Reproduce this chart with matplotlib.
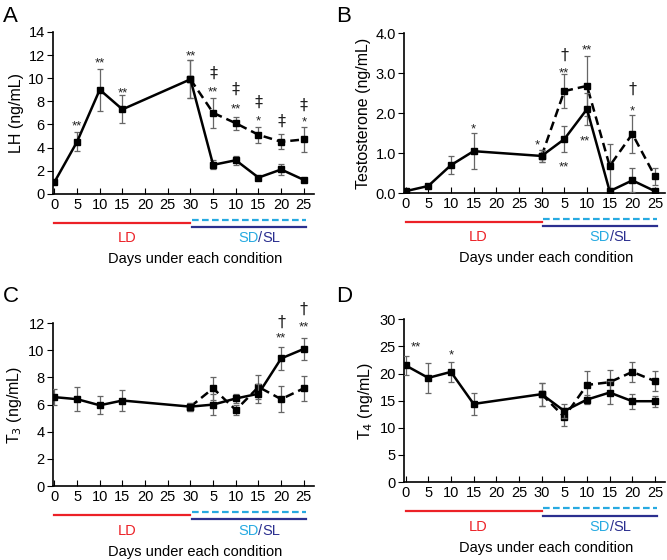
import matplotlib
matplotlib.use("Agg")
import matplotlib.pyplot as plt
import matplotlib.transforms as mtransforms

plt.rcParams['font.family'] = ['Liberation Sans', 'DejaVu Sans']

# days (30 = end of LD, then 5..25 days under SD/SL drawn at 35..55)
x_solid = [0, 5, 10, 15, 30, 35, 40, 45, 50, 55]
x_dash = [30, 35, 40, 45, 50, 55]
tick_pos = [0, 5, 10, 15, 20, 25, 30, 35, 40, 45, 50, 55]
tick_lab = ['0', '5', '10', '15', '20', '25', '30', '5', '10', '15', '20', '25']

# A: LH
lh_sl = [1.0, 4.5, 9.0, 7.3, 9.9, 2.5, 2.9, 1.4, 2.1, 1.2]
lh_sl_err = [0.1, 0.8, 1.8, 1.2, 1.65, 0.4, 0.4, 0.1, 0.5, 0.1]
lh_sd = [9.9, 7.0, 6.1, 5.1, 4.5, 4.7]
lh_sd_err = [1.65, 1.3, 0.55, 0.7, 0.65, 1.1]
lh_marks = [(5, 6.2, '**'), (10, 11.7, '**'), (15, 9.1, '**'), (30, 12.3, '**'),
            (35, 10.5, '‡'), (35, 9.2, '**'), (40, 9.1, '‡'), (40, 7.7, '**'),
            (45, 8.0, '‡'), (45, 6.7, '*'), (50, 6.3, '‡'), (55, 7.7, '‡'), (55, 6.6, '*')]

# B: testosterone
te_sl = [0.05, 0.18, 0.7, 1.05, 0.93, 1.35, 2.1, 0.05, 0.32, 0.05]
te_sl_err = [0.02, 0.05, 0.23, 0.45, 0.15, 0.32, 0.4, 0.02, 0.3, 0.02]
te_sd = [0.93, 2.55, 2.68, 0.68, 1.48, 0.42]
te_sd_err = [0.15, 0.43, 0.75, 0.55, 0.47, 0.21]
te_marks = [(15, 1.7, '*'), (29, 1.3, '*'), (35, 3.45, '†'), (35, 3.1, '**'),
            (35, 0.77, '**'), (40, 3.67, '**'), (39.5, 1.42, '**'),
            (50, 2.6, '†'), (50, 2.17, '*')]

# C: T3
t3_sl = [6.55, 6.4, 5.95, 6.3, 5.85, 6.0, 6.45, 6.8, 9.4, 10.1]
t3_sl_err = [0.6, 0.9, 0.65, 0.8, 0.3, 0.8, 0.35, 0.7, 0.85, 0.8]
t3_sd = [5.85, 7.2, 5.6, 7.3, 6.4, 7.2]
t3_sd_err = [0.3, 0.85, 0.38, 0.9, 0.95, 0.9]
t3_marks = [(50, 12.1, '†'), (50, 11.2, '**'), (55, 13.05, '†'), (55, 12.0, '**')]

# D: T4
t4_sl = [21.5, 19.2, 20.3, 14.4, 16.2, 13.1, 15.2, 16.5, 14.9, 14.9]
t4_sl_err = [1.8, 2.7, 1.9, 2.1, 2.1, 1.3, 0.9, 2.2, 1.4, 1.0]
t4_sd = [16.2, 12.0, 17.9, 18.4, 20.3, 18.6]
t4_sd_err = [2.1, 1.6, 2.6, 2.3, 1.8, 1.8]
t4_marks = [(2.2, 25.6, '**'), (10, 24.2, '*')]

panels = [
    ('A', (3, 17), 'LH (ng/mL)', [0.0795, 0.654, 0.391, 0.289], (0, 14), range(0, 15, 2), '%d',
     lh_sl, lh_sl_err, lh_sd, lh_sd_err, lh_marks),
    ('B', (336, 17), 'Testosterone (ng/mL)', [0.606, 0.655, 0.391, 0.286], (0, 4), [0, 1, 2, 3, 4], '%.1f',
     te_sl, te_sl_err, te_sd, te_sd_err, te_marks),
    ('C', (3, 297), 'T$_3$ (ng/mL)', [0.0795, 0.132, 0.391, 0.291], (0, 12), range(0, 13, 2), '%d',
     t3_sl, t3_sl_err, t3_sd, t3_sd_err, t3_marks),
    ('D', (336, 297), 'T$_4$ (ng/mL)', [0.606, 0.139, 0.391, 0.291], (0, 30), range(0, 31, 5), '%d',
     t4_sl, t4_sl_err, t4_sd, t4_sd_err, t4_marks),
]

RED = '#ec2127'
CYAN = '#27aae1'
NAVY = '#2b2f8f'

fig = plt.figure(figsize=(6.67, 5.6), dpi=100)

for letter, lpos, ylab, rect, ylim, yt, fmt, sl, sl_err, sd, sd_err, marks in panels:
    ax = fig.add_axes(rect)
    ax.errorbar(x_dash, sd, yerr=sd_err, color='black', ls='--', lw=1.8, marker='s', ms=4,
                ecolor='#666666', elinewidth=0.9, capsize=2, capthick=0.9, dashes=(3.5, 2), zorder=3)
    ax.errorbar(x_solid, sl, yerr=sl_err, color='black', ls='-', lw=1.8, marker='s', ms=4,
                ecolor='#666666', elinewidth=0.9, capsize=2, capthick=0.9, zorder=4)
    # significance marks, glyph centre placed at the given value
    for x, y, s in marks:
        if s in ('†', '‡'):
            fs = 11.5
            ax.annotate(s, (x, y), xytext=(0, -0.32 * fs), textcoords='offset points',
                        ha='center', va='baseline', fontsize=fs, color='#222222',
                        family=['DejaVu Sans'], annotation_clip=False)
        else:
            fs = 9.5
            ax.annotate(s, (x, y), xytext=(0, -0.58 * fs), textcoords='offset points',
                        ha='center', va='baseline', fontsize=fs, color='#222222',
                        annotation_clip=False)

    ax.set_xlim(-0.3, 57.2)
    ax.set_ylim(*ylim)
    ax.set_xticks(tick_pos)
    ax.set_xticklabels(tick_lab)
    ax.set_yticks(list(yt))
    ax.set_yticklabels([fmt % v for v in yt])
    ax.tick_params(axis='x', direction='in', length=4, labelsize=10.5, pad=3)
    ax.tick_params(axis='y', direction='out', length=4, labelsize=10.5, pad=2)
    ax.spines['top'].set_visible(False)
    ax.spines['right'].set_visible(False)
    for sp in ('left', 'bottom'):
        ax.spines[sp].set_linewidth(1.2)
    ax.set_ylabel(ylab, fontsize=11.5, labelpad=3)

    # condition bars under the axis
    tr = mtransforms.blended_transform_factory(ax.transData, ax.transAxes)
    ax.plot([0, 30], [-0.18, -0.18], color=RED, lw=1.6, transform=tr, clip_on=False)
    ax.plot([30.3, 55.5], [-0.16, -0.16], color=CYAN, lw=1.6, ls='--', dashes=(3, 1.5),
            transform=tr, clip_on=False)
    ax.plot([30.3, 55.5], [-0.205, -0.205], color=NAVY, lw=1.6, transform=tr, clip_on=False)
    ax.text(16, -0.275, 'LD', color=RED, fontsize=10.5, ha='center', va='center', transform=tr)
    t1 = ax.text(40.5, -0.275, 'SD', color=CYAN, fontsize=10.5, ha='left', va='center', transform=tr)
    t2 = ax.annotate('/', xy=(1, 0), xycoords=t1, va='bottom', ha='left', color=NAVY, fontsize=10.5)
    ax.annotate('SL', xy=(1, 0), xycoords=t2, va='bottom', ha='left', color=NAVY, fontsize=10.5)
    ax.text(31, -0.405, 'Days under each condition', fontsize=10.5, ha='center', va='center',
            transform=tr)

    fig.text(lpos[0] / 667, 1 - lpos[1] / 560, letter, fontsize=16, ha='left', va='center')

fig.savefig('out.png', dpi=100)
